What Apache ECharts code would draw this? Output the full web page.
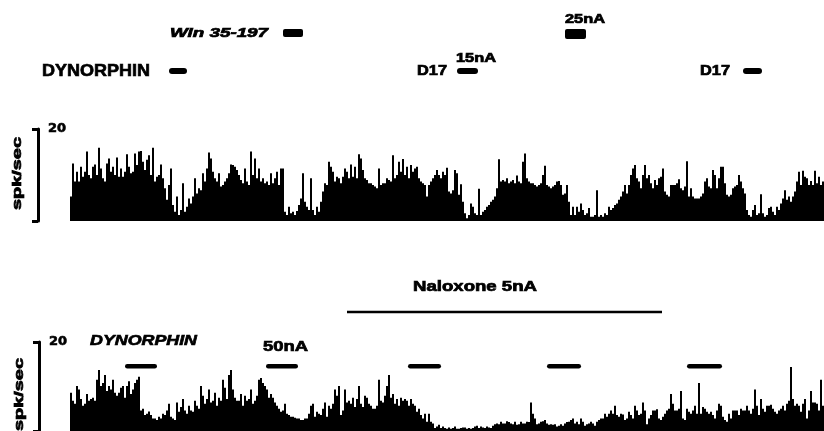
<!DOCTYPE html>
<html>
<head>
<meta charset="utf-8">
<script src="https://cdn.jsdelivr.net/npm/echarts@6/dist/echarts.min.js"></script>
<style>
  html, body { margin: 0; padding: 0; background: #fff; }
  #chart { width: 824px; height: 431px; }
</style>
</head>
<body>
<div id="chart"></div>
<script>
// Firing rate histograms (spk/sec), one value per time bin.
// Upper trace: dynorphin, Win 35-197 and D17 applications.
const upperRateA = [
  5.3,12.5,8.6,10.7,8.6,11.8,9.6,10.7,15.1,10.0,
  9.3,11.8,12.3,10.0,15.9,11.4,9.3,8.6,12.5,13.6,
  10.7,11.8,10.0,13.8,9.6,11.4,9.6,10.7,14.5,11.8,
  10.4,10.7,14.7,12.2,15.1,15.2,12.9,11.1,13.3,14.3,
  10.0,15.9,8.6,9.6,10.0,12.3,9.3,7.1,4.6,7.8,
  11.4,3.5,2.0,5.3,1.3,2.4,8.2,2.0,3.1,4.9,
  3.8,5.3,9.3,6.0,7.1,6.7,10.4,8.6,11.4,14.9,
  13.6,10.7,9.3,8.6,10.4,7.5,7.8,8.6,9.3,10.4,
  12.3,12.2,11.8,11.1,10.0,8.9,8.2,11.4,8.6,7.8,
  15.1,10.0,13.6,9.3,11.4,8.6,9.3,8.2,8.6,7.8,
  10.4,8.2,9.3,10.7,7.8,11.4,11.4,2.0,1.3,3.1,
  1.7,2.0,1.3,2.2,3.5,4.9,10.4,4.2,3.1,2.4,
  9.3,2.4,1.3,3.1,2.0
];
const upperRateB = [
  4.2,6.4,8.2,7.8,12.9,11.8,10.7,8.6,9.6,9.3,
  8.2,9.6,11.4,10.7,9.3,12.3,9.6,11.8,9.3,14.5,
  13.6,11.1,9.3,8.9,8.2,8.2,7.8,7.5,7.1,11.4,
  7.8,8.2,8.2,9.3,8.9,8.6,14.3,9.3,10.0,12.9,
  10.7,13.5,10.0,11.8,9.3,12.2,10.7,11.4,11.8,9.3,
  8.6,8.2,7.8,5.3,7.8,8.6,9.3,10.0,11.1,10.0,
  9.3,10.7,10.0,11.6,6.4,6.0,6.7,11.1,10.4,5.7,
  8.0,4.2,1.7,0.6,1.3,3.8,3.1,1.7,1.3,7.0,
  1.3,2.0,2.4,3.1,3.5,4.2,4.6,5.3,7.1,13.4,
  8.6,8.9,8.6,9.3,8.2,8.6,8.9,8.2,9.9,8.6,
  8.2,12.9,14.7,9.3,8.6,8.2,8.2,7.8,7.5,7.8,
  8.2,10.0,12.0,7.8,7.5,7.1,7.5,7.8,8.6,8.7,
  7.8,5.7,6.0,7.8,4.2,1.3
];
const upperRateC = [
  3.1,1.3,3.1,2.0,3.8,2.4,1.3,1.7,2.8,0.9,
  0.9,1.3,6.7,0.9,1.3,0.9,1.7,1.3,3.1,2.4,
  2.8,3.5,3.8,4.6,5.3,6.4,7.8,6.0,7.8,10.0,
  11.4,12.2,9.3,8.6,7.1,10.0,12.2,9.3,10.0,8.2,
  7.1,8.9,7.8,9.3,9.6,11.4,6.4,5.7,5.3,7.8,
  7.8,7.8,8.2,9.1,7.1,6.7,7.5,13.0,5.3,7.1,
  5.3,4.9,4.9,4.9,5.3,6.0,8.6,9.3,7.5,7.1,
  11.1,10.0,7.1,9.3,11.8,11.8,8.2,5.7,5.3,5.7,
  7.1,7.5,7.8,10.0,8.6,7.1,6.0,2.4,1.3,0.9,
  2.4,3.5,1.3,1.7,5.8,1.7,0.9,1.3,2.8,3.1,
  2.0,1.3,3.1,2.4,3.8,4.9,6.7,4.6,5.3,4.2,
  5.3,6.4,8.6,10.7,7.8,10.9,9.6,9.3,7.8,8.7,
  7.8,10.9,8.2,9.6,7.8,8.6
];

// Lower trace: repeated dynorphin 50nA, with naloxone 5nA in between.
const lowerRateA = [
  8.6,6.8,6.1,10.1,9.3,7.2,5.7,6.1,8.3,6.8,
  7.2,7.5,6.8,11.5,13.7,10.1,10.8,12.6,9.0,10.1,
  9.3,11.5,8.6,7.9,8.6,9.7,10.1,7.5,10.1,11.2,
  8.3,9.3,10.8,11.5,12.2,4.6,5.0,3.6,3.9,4.4,
  3.6,2.8,2.8,2.5,3.2,2.8,3.9,3.6,4.6,6.1,
  3.2,2.8,2.5,6.4,4.3,5.4,7.2,4.6,3.9,5.7,
  4.6,4.3,6.8,5.7,5.0,10.1,7.9,6.1,7.2,9.3,
  6.4,6.8,8.6,5.7,7.5,6.8,11.5,9.7,7.2,12.6,
  13.7,9.3,7.5,6.8,6.8,8.3,5.7,7.9,6.8,7.2,
  9.3,6.1,6.8,7.9,11.5,11.9,10.8,10.1,9.3,7.5,
  8.3,7.5,6.4,5.7,5.0,4.3,4.6,6.1,3.9,3.6,
  3.2,3.2,3.0,2.8,2.8,2.5,2.5,2.8,2.8,3.9,
  5.7,6.1,3.2,4.3,3.9
];
const lowerRateB = [
  3.6,5.0,6.4,3.2,5.7,5.0,6.1,9.3,7.9,10.1,
  3.6,4.6,9.3,6.4,6.8,6.1,7.5,5.4,7.2,10.1,
  6.1,5.4,7.9,7.5,6.1,5.7,5.0,5.0,5.7,11.5,
  6.8,6.4,7.9,10.1,12.6,7.5,8.3,6.1,7.2,5.7,
  7.5,6.8,7.2,6.8,5.7,7.2,6.1,5.7,4.3,5.0,
  3.6,2.8,3.9,2.1,3.9,2.1,1.7,0.7,1.0,1.4,
  0.7,1.0,0.7,0.5,0.8,0.5,0.7,1.0,0.5,0.5,
  0.7,0.8,0.8,0.5,0.7,0.5,0.7,1.0,1.2,0.7,
  1.0,0.8,0.7,1.0,0.8,0.7,1.2,1.5,1.7,1.5,
  2.1,1.7,1.7,2.2,2.0,1.7,1.5,2.1,1.4,1.5,
  2.1,1.7,1.7,2.1,2.0,6.4,3.9,2.8,1.5,1.7,
  2.1,2.2,2.5,1.7,1.4,1.5,1.4,1.5,1.0,1.2,
  1.5,1.2,1.7,2.0,2.1,2.5
];
const lowerRateC = [
  2.8,1.7,2.1,1.5,2.8,2.1,1.2,1.5,1.7,2.1,
  1.7,1.2,2.1,2.5,2.8,2.8,3.9,3.2,3.9,4.6,
  3.9,5.7,3.6,3.2,3.9,3.7,2.5,2.8,4.3,3.6,
  2.8,5.7,4.6,3.6,3.9,6.4,4.6,1.5,2.8,3.6,
  4.6,4.6,4.9,2.8,2.5,3.2,3.9,4.6,5.0,8.3,
  6.1,4.6,4.6,5.0,9.0,2.8,2.5,5.0,4.3,3.9,
  4.6,5.7,3.9,10.8,3.9,5.4,5.0,4.3,3.9,4.3,
  3.6,2.8,4.6,6.1,5.7,3.2,2.5,2.1,3.9,2.8,
  4.6,4.6,4.6,3.6,5.0,4.6,4.6,5.7,4.6,3.9,
  5.0,9.3,5.7,3.6,7.2,5.0,4.3,5.7,5.7,5.9,
  5.0,4.3,3.9,4.6,5.0,5.7,4.6,6.1,6.8,14.4,
  7.2,5.7,6.1,5.7,4.3,6.1,7.2,2.8,4.6,9.0,
  6.4,6.4,6.1,4.6,11.5,5.7
];

// Scale bar: 0 to 20 spk/sec
const rateTicks = [0, 20];

// Drug application periods, as [first bin, last bin] (bin edges)
const upperDynorphin = [49.5, 58.5];
const upperWin = [106.5, 116.5];
const upperD17_15nA = [193.5, 204];
const upperD17_25nA = [247.5, 258];
const upperD17Late = [336.5, 346];
const lowerDynorphin = [[27.5, 43.5], [98, 114], [169, 185.5], [238.5, 255.5], [308.5, 326]];
const lowerNaloxone = [138.5, 296];

const upperRate = upperRateA.concat(upperRateB, upperRateC);
const lowerRate = lowerRateA.concat(lowerRateB, lowerRateC);
const upperBins = upperRate.map((_, i) => i);
const lowerBins = lowerRate.map((_, i) => i);

const INK = '#000';

function rateAxis(gridIndex, offset) {
  return {
    gridIndex: gridIndex,
    type: 'value',
    min: rateTicks[0],
    max: rateTicks[1],
    interval: rateTicks[1] - rateTicks[0],
    position: 'left',
    offset: offset,
    axisLine: { show: true, lineStyle: { color: INK, width: 3 } },
    axisTick: { show: true, length: 6, lineStyle: { color: INK, width: 3 } },
    axisLabel: {
      show: true,
      inside: true,
      margin: 10,
      color: INK,
      fontFamily: 'DejaVu Sans',
      fontWeight: 'bold',
      fontSize: 13,
      textBorderColor: INK,
      textBorderWidth: 0.6,
      formatter: v => (v === rateTicks[1] ? String(v) : '')
    },
    splitLine: { show: false }
  };
}

function binAxis(gridIndex, bins) {
  return {
    gridIndex: gridIndex,
    type: 'category',
    data: bins,
    show: false,
    boundaryGap: true
  };
}

function histogram(xIndex, data) {
  return {
    type: 'bar',
    xAxisIndex: xIndex,
    yAxisIndex: xIndex,
    data: data,
    barCategoryGap: '0%',
    barGap: '0%',
    itemStyle: { color: INK },
    silent: true,
    animation: false
  };
}

const option = {
  animation: false,
  backgroundColor: '#fff',
  grid: [
    { left: 70, top: 129, width: 754, height: 92 },
    { left: 70, top: 342, width: 754, height: 92 }
  ],
  xAxis: [binAxis(0, upperBins), binAxis(1, lowerBins)],
  yAxis: [rateAxis(0, 32), rateAxis(1, 31)],
  series: [histogram(0, upperRate), histogram(1, lowerRate)]
};

const chart = echarts.init(document.getElementById('chart'), null, { renderer: 'canvas' });
chart.setOption(option);

// Bin edge -> pixel x, using each panel's category axis
function edgeX(axisIndex, b) {
  const c0 = chart.convertToPixel({ xAxisIndex: axisIndex }, 0);
  const c1 = chart.convertToPixel({ xAxisIndex: axisIndex }, 1);
  const w = c1 - c0;
  return c0 - w / 2 + b * w;
}

function pill(axisIndex, range, y, h, r) {
  const x0 = edgeX(axisIndex, range[0]);
  const x1 = edgeX(axisIndex, range[1]);
  return {
    type: 'rect',
    silent: true,
    shape: { x: x0, y: y, width: x1 - x0, height: h, r: r },
    style: { fill: INK }
  };
}

const measureCtx = document.createElement('canvas').getContext('2d');
function textWidth(text, font) {
  measureCtx.font = font;
  return measureCtx.measureText(text).width;
}

// Extended, heavy lettering: stretch the text horizontally to its box
function label(text, font, left, right, cy) {
  const w = textWidth(text, font);
  return {
    type: 'text',
    silent: true,
    x: left,
    y: cy,
    scaleX: (right - left) / w,
    style: {
      text: text, font: font, fill: INK,
      stroke: INK, lineWidth: 0.7,
      align: 'left', verticalAlign: 'middle',
      textAlign: 'left', textVerticalAlign: 'middle'
    }
  };
}

function vlabel(text, font, cx, top, bottom) {
  const w = textWidth(text, font);
  return {
    type: 'text',
    silent: true,
    x: cx,
    y: (top + bottom) / 2,
    rotation: Math.PI / 2,
    scaleX: (bottom - top) / w,
    style: {
      text: text, font: font, fill: INK,
      stroke: INK, lineWidth: 0.7,
      align: 'center', verticalAlign: 'middle',
      textAlign: 'center', textVerticalAlign: 'middle'
    }
  };
}

const F = '"Liberation Sans", Arial, sans-serif';
const graphics = [
  // upper panel annotations
  label('Win 35-197', 'italic bold 13px ' + F, 170, 268, 33),
  pill(0, upperWin, 29, 8, 2),
  label('DYNORPHIN', 'bold 17px ' + F, 42, 150, 71),
  pill(0, upperDynorphin, 68, 6, 3),
  label('D17', 'bold 14px ' + F, 417, 447, 71),
  label('15nA', 'bold 12px ' + F, 456, 496, 59),
  pill(0, upperD17_15nA, 68, 6, 3),
  label('25nA', 'bold 12px ' + F, 565, 605, 20),
  pill(0, upperD17_25nA, 29, 10, 2),
  label('D17', 'bold 14px ' + F, 700, 730, 71),
  pill(0, upperD17Late, 68, 6, 3),
  vlabel('spk/sec', 'bold 12px ' + F, 18, 137, 210),

  // lower panel annotations
  label('Naloxone 5nA', 'bold 14px ' + F, 413, 537, 287.5),
  {
    type: 'line',
    silent: true,
    shape: { x1: edgeX(1, lowerNaloxone[0]), y1: 312, x2: edgeX(1, lowerNaloxone[1]), y2: 312 },
    style: { stroke: INK, lineWidth: 2.5 }
  },
  label('DYNORPHIN', 'italic bold 15px ' + F, 90, 197, 341),
  label('50nA', 'bold 14px ' + F, 263, 308, 347),
  vlabel('spk/sec', 'bold 12px ' + F, 20, 358, 431)
].concat(lowerDynorphin.map(r => pill(1, r, 364, 4.5, 2.25)));

chart.setOption({ graphic: { elements: graphics } });
</script>
</body>
</html>
